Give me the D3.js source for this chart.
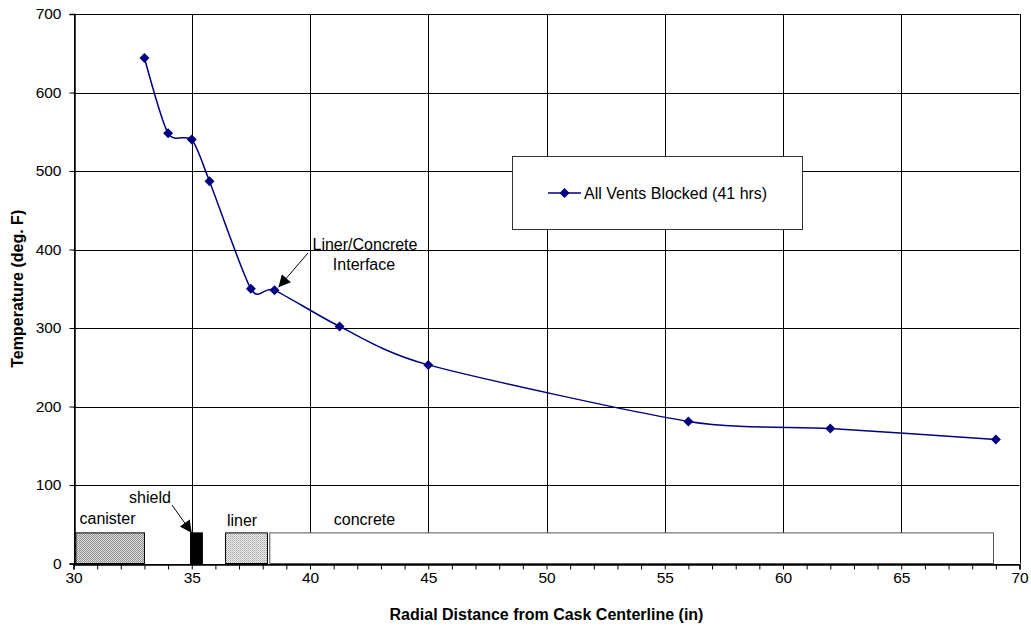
<!DOCTYPE html>
<html><head><meta charset="utf-8">
<script src="https://cdn.jsdelivr.net/npm/d3@7"></script>
<style>body{margin:0;background:#fff}svg{display:block;font-family:"Liberation Sans",Arial,sans-serif}</style>
</head><body><svg id="c" width="1031" height="630"></svg>
<script>
const radius = [33, 34, 35, 35.75, 37.5, 38.5, 41.25, 45, 56, 62, 69];
const temperature = [644, 548, 540, 487, 350, 348, 302, 253, 181, 172, 158];
const seriesName = "All Vents Blocked (41 hrs)";
const xTicks = [30, 35, 40, 45, 50, 55, 60, 65, 70];
const yTicks = [0, 100, 200, 300, 400, 500, 600, 700];
const components = ["canister", "shield", "liner", "concrete"];
const compStart = [30.1, 34.95, 36.43, 38.3];
const compEnd = [33, 35.45, 38.2, 68.9];
const compHeight = [39, 39, 39, 39];

const svg = d3.select("#c");
const L = 73.5, R = 1019.5, T = 14, B = 563.5;
const x = d3.scaleLinear().domain([30, 70]).range([L, R]);
const y = d3.scaleLinear().domain([0, 700]).range([B, T]);

const defs = svg.append("defs");
const p1 = defs.append("pattern").attr("id", "dense").attr("width", 2).attr("height", 2).attr("patternUnits", "userSpaceOnUse");
p1.append("rect").attr("width", 2).attr("height", 2).attr("fill", "#e4e4e4");
p1.append("rect").attr("width", 1).attr("height", 1).attr("fill", "#8a8a8a");
p1.append("rect").attr("x", 1).attr("y", 1).attr("width", 1).attr("height", 1).attr("fill", "#8a8a8a");
const p2 = defs.append("pattern").attr("id", "light").attr("width", 2).attr("height", 2).attr("patternUnits", "userSpaceOnUse");
p2.append("rect").attr("width", 2).attr("height", 2).attr("fill", "#ececec");
p2.append("rect").attr("width", 1).attr("height", 1).attr("fill", "#a8a8a8");
p2.append("rect").attr("x", 1).attr("y", 1).attr("width", 1).attr("height", 1).attr("fill", "#c4c4c4");
defs.append("marker").attr("id", "arr2").attr("viewBox", "0 0 10 10").attr("refX", 10).attr("refY", 5)
  .attr("markerWidth", 15).attr("markerHeight", 12).attr("markerUnits", "userSpaceOnUse").attr("orient", "auto")
  .append("path").attr("d", "M0,0L10,5L0,10Z").attr("fill", "#000");

// grid
const g = svg.append("g");
g.selectAll(".vg").data(xTicks).join("line")
  .attr("x1", d => Math.round(x(d)) + 0.5).attr("x2", d => Math.round(x(d)) + 0.5)
  .attr("y1", T).attr("y2", B).attr("stroke", "#000").attr("stroke-width", 1);
g.selectAll(".hg").data(yTicks).join("line")
  .attr("y1", d => Math.round(y(d)) + 0.5).attr("y2", d => Math.round(y(d)) + 0.5)
  .attr("x1", L).attr("x2", R).attr("stroke", "#000").attr("stroke-width", 1);

// components
const fills = ["url(#dense)", "#000", "url(#light)", "#fff"];
const strokes = ["#000", "#000", "#000", "#555"];
svg.selectAll(".comp").data(components).join("rect")
  .attr("x", (d, i) => x(compStart[i])).attr("width", (d, i) => x(compEnd[i]) - x(compStart[i]))
  .attr("y", (d, i) => y(compHeight[i])).attr("height", (d, i) => y(0) - y(compHeight[i]))
  .attr("fill", (d, i) => fills[i]).attr("stroke", (d, i) => strokes[i]).attr("stroke-width", 1);

// axes
const xAxis = svg.append("g").attr("transform", `translate(0,${Math.round(B) + 0.5})`)
  .call(d3.axisBottom(x).tickValues(d3.range(30, 71, 1)).tickSize(5).tickFormat(""));
xAxis.select(".domain").attr("stroke-width", 1.5);
svg.append("g").attr("transform", `translate(0,${B})`)
  .call(d3.axisBottom(x).tickValues(xTicks).tickSize(0).tickPadding(8))
  .call(s => s.select(".domain").remove())
  .selectAll("text").attr("font-size", 15.5).attr("font-family", "Liberation Sans, Arial").attr("fill", "#000");
const yAxis = svg.append("g").attr("transform", `translate(${Math.round(L) + 0.5},0)`)
  .call(d3.axisLeft(y).tickValues(yTicks).tickSize(5).tickPadding(8));
yAxis.select(".domain").attr("stroke-width", 1.5);
yAxis.selectAll("text").attr("font-size", 15.5).attr("font-family", "Liberation Sans, Arial").attr("fill", "#000");

// line
const pts = radius.map((r, i) => [x(r), y(temperature[i])]);
svg.append("path").attr("d", d3.line().curve(d3.curveCardinal.tension(0.25))(pts))
  .attr("fill", "none").attr("stroke", "#000080").attr("stroke-width", 1.5);
const diamondType = { draw(ctx, size) { const r = Math.sqrt(size) / 2; ctx.moveTo(0, -r); ctx.lineTo(r, 0); ctx.lineTo(0, r); ctx.lineTo(-r, 0); ctx.closePath(); } };
const dia = d3.symbol().type(diamondType).size(100);
svg.selectAll(".pt").data(pts).join("path").attr("d", dia)
  .attr("transform", d => `translate(${d[0]},${d[1]})`).attr("fill", "#000080");

// component labels
const lab = svg.append("g").attr("font-size", 16).attr("fill", "#000");
const labPos = [[107.5, 524], [150, 503], [242, 526], [364.5, 525]];
components.forEach((c, i) => {
  lab.append("text").attr("x", labPos[i][0]).attr("y", labPos[i][1]).attr("text-anchor", "middle").text(c);
});
svg.append("line").attr("x1", 172).attr("y1", 505).attr("x2", x(35)).attr("y2", y(39))
  .attr("stroke", "#000").attr("marker-end", "url(#arr2)");

// Liner/Concrete annotation
const ann = svg.append("g").attr("font-size", 16).attr("text-anchor", "middle");
ann.append("text").attr("x", 365).attr("y", 250).text("Liner/Concrete");
ann.append("text").attr("x", 364).attr("y", 270).text("Interface");
svg.append("line").attr("x1", 308).attr("y1", 253).attr("x2", x(38.5) + 4).attr("y2", y(348) - 3)
  .attr("stroke", "#000").attr("marker-end", "url(#arr2)");

// legend
const lg = svg.append("g");
lg.append("rect").attr("x", 512.5).attr("y", 156.5).attr("width", 290).attr("height", 73)
  .attr("fill", "#fff").attr("stroke", "#333").attr("stroke-width", 1);
lg.append("line").attr("x1", 548).attr("x2", 581).attr("y1", 193).attr("y2", 193).attr("stroke", "#000080").attr("stroke-width", 1.5);
lg.append("path").attr("d", dia).attr("transform", "translate(564.5,193)").attr("fill", "#000080");
lg.append("text").attr("x", 584).attr("y", 199).attr("font-size", 16).text(seriesName);

// titles
svg.append("text").attr("x", (L + R) / 2).attr("y", 620).attr("text-anchor", "middle")
  .attr("font-size", 16).attr("font-weight", "bold").text("Radial Distance from Cask Centerline (in)");
svg.append("text").attr("transform", `translate(23,${(T + B) / 2}) rotate(-90)`).attr("text-anchor", "middle")
  .attr("font-size", 16).attr("font-weight", "bold").text("Temperature (deg. F)");
</script></body></html>
